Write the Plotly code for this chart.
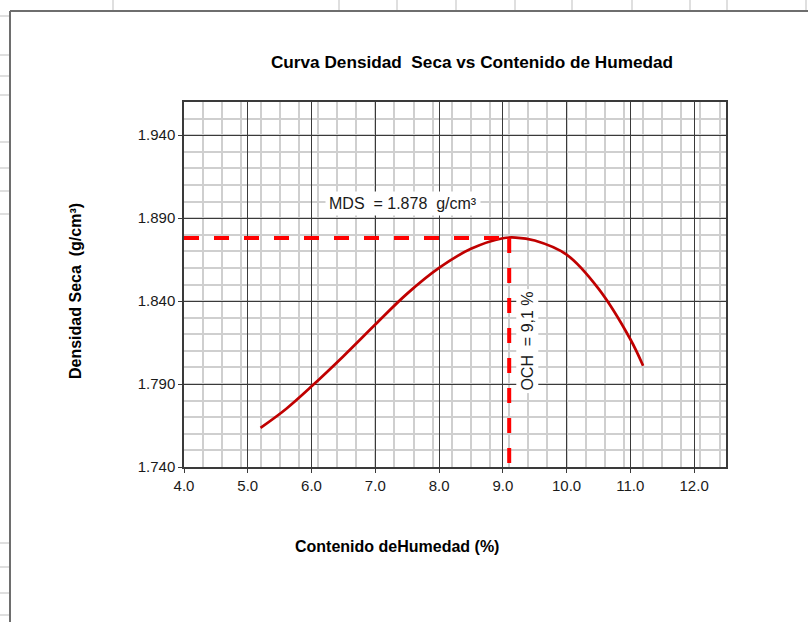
import plotly.graph_objects as go

# Data
humedad = [5.2, 5.6, 6.0, 6.5, 7.0, 7.5, 8.0, 8.5, 9.0, 9.2, 9.5, 10.0, 10.5, 11.0, 11.2]
densidad = [1.7636, 1.7750, 1.7886, 1.8068, 1.8259, 1.8445, 1.8600, 1.8715, 1.8779, 1.8783, 1.8765, 1.8680, 1.8475, 1.8170, 1.8010]
mds = 1.878
och = 9.1
x_range = [4.0, 12.5]
y_range = [1.740, 1.960]
x_ticks = [4, 5, 6, 7, 8, 9, 10, 11, 12]
y_ticks = [1.740, 1.790, 1.840, 1.890, 1.940]

W, H = 808, 622
L, R, T, B = 184, 726, 102, 467

def px(x):
    return (x - L) / (R - L)

def py(y):
    return (B - y) / (B - T)

fig = go.Figure()
fig.add_trace(go.Scatter(x=humedad, y=densidad, mode="lines",
                         line=dict(color="#c00000", width=2.7, shape="spline", smoothing=1.0),
                         showlegend=False, hoverinfo="skip"))
fig.add_trace(go.Scatter(x=[x_range[0], och], y=[mds, mds], mode="lines",
                         line=dict(color="#ff0000", width=4, dash="15px,15px"),
                         showlegend=False, hoverinfo="skip"))
fig.add_trace(go.Scatter(x=[och, och], y=[mds, y_range[0]], mode="lines",
                         line=dict(color="#ff0000", width=4, dash="15px,15px"),
                         showlegend=False, hoverinfo="skip"))

shapes = []
# spreadsheet background lines (outside chart)
for xv in [113, 339, 397, 456, 515, 572, 632, 690, 727, 806]:
    shapes.append(dict(type="line", xref="paper", yref="paper",
                       x0=px(xv), x1=px(xv), y0=py(0), y1=py(10),
                       line=dict(color="#d4d4d4", width=1.5), layer="below"))
for yv in [16, 55, 76, 95, 142, 168, 191, 214, 543, 567, 593, 615]:
    shapes.append(dict(type="line", xref="paper", yref="paper",
                       x0=px(0), x1=px(9), y0=py(yv), y1=py(yv),
                       line=dict(color="#d4d4d4", width=1.5), layer="below"))
# chart area border
shapes.append(dict(type="line", xref="paper", yref="paper",
                   x0=px(10), x1=px(812), y0=py(11), y1=py(11),
                   line=dict(color="#6e6e6e", width=2)))
shapes.append(dict(type="line", xref="paper", yref="paper",
                   x0=px(10), x1=px(10), y0=py(11), y1=py(630),
                   line=dict(color="#6e6e6e", width=2)))

fig.update_layout(
    width=W, height=H,
    margin=dict(l=L, r=W - R, t=T, b=H - B),
    paper_bgcolor="white", plot_bgcolor="white",
    font=dict(family="Liberation Sans, Arial, sans-serif", color="#000000"),
    shapes=shapes,
    title=dict(text="<b>Curva Densidad  Seca vs Contenido de Humedad</b>",
               x=472 / W, xanchor="center", y=1 - 62 / H, yanchor="middle",
               font=dict(size=17.2, color="#000000")),
    xaxis=dict(range=x_range, tickvals=x_ticks,
               ticktext=[f"{v:.1f}" for v in x_ticks],
               showgrid=True, gridcolor="#3a3a3a", gridwidth=1,
               minor=dict(tick0=4.0, dtick=0.3, showgrid=True,
                          gridcolor="#cfcfcf", gridwidth=1.5),
               showline=True, linecolor="#3a3a3a", linewidth=1.5, mirror=True,
               ticks="outside", ticklen=4, tickcolor="#3a3a3a",
               tickfont=dict(size=15, color="#1a1a1a"), zeroline=False),
    yaxis=dict(range=y_range, tickvals=y_ticks,
               ticktext=[f"{v:.3f}" for v in y_ticks],
               showgrid=True, gridcolor="#3a3a3a", gridwidth=1,
               minor=dict(tick0=1.74, dtick=0.01, showgrid=True,
                          gridcolor="#cfcfcf", gridwidth=1.5),
               showline=True, linecolor="#3a3a3a", linewidth=1.5, mirror=True,
               ticks="outside", ticklen=4, tickcolor="#3a3a3a",
               tickfont=dict(size=15, color="#1a1a1a"), zeroline=False),
    annotations=[
        dict(text="<b>Contenido deHumedad (%)</b>", xref="paper", yref="paper",
             x=px(397), y=py(546), showarrow=False, xanchor="center", yanchor="middle",
             font=dict(size=16, color="#000000")),
        dict(text="<b>Densidad Seca  (g/cm³)</b>", xref="paper", yref="paper",
             x=px(75), y=py(291), showarrow=False, xanchor="center", yanchor="middle",
             textangle=-90, font=dict(size=16, color="#000000")),
        dict(text="MDS  = 1.878  g/cm³", x=7.43, y=1.899, xref="x", yref="y",
             showarrow=False, bgcolor="white", borderpad=3,
             font=dict(size=16, color="#1a1a1a")),
        dict(text="OCH  = 9,1 %", x=9.39, y=1.816, xref="x", yref="y",
             showarrow=False, bgcolor="white", borderpad=2, textangle=-90,
             font=dict(size=16, color="#1a1a1a")),
    ],
)

fig.write_html("out.html", config={"displayModeBar": False},
               post_script="document.body.style.margin='0px';document.body.style.overflow='hidden';")
